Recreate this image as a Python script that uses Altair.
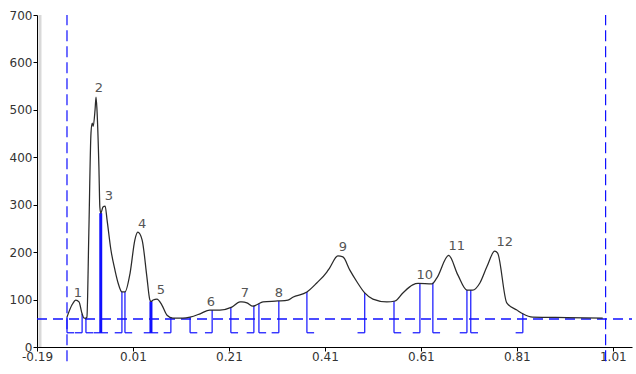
import altair as alt
import pandas as pd
import numpy as np

# ---- data ----
curve_x = [-0.1275, -0.117, -0.109, -0.1025, -0.096, -0.092, -0.088, -0.086, -0.082, -0.0775,
           -0.075, -0.073, -0.069, -0.067, -0.065, -0.061, -0.059, -0.057, -0.0525, -0.048,
           -0.044, -0.036, -0.0275, -0.021, -0.013, -0.0067, 0.004, 0.014, 0.020, 0.029,
           0.039, 0.045, 0.0475, 0.052, 0.060, 0.070, 0.081, 0.093, 0.114, 0.129,
           0.150, 0.170, 0.191, 0.216, 0.233, 0.237, 0.2475, 0.260, 0.268, 0.281,
           0.312, 0.333, 0.343, 0.3725, 0.393, 0.414, 0.420, 0.437, 0.4475, 0.462,
           0.477, 0.493, 0.510, 0.539, 0.556, 0.5725, 0.593, 0.604, 0.633, 0.643,
           0.668, 0.687, 0.706, 0.718, 0.733, 0.7475, 0.764, 0.770, 0.789, 0.810,
           0.8225, 0.843, 0.914, 0.989]
curve_y = [63, 89, 99, 95, 70, 61, 61, 63, 240, 451,
           472, 465, 500, 527, 500, 380, 295, 282, 295, 297,
           268, 205, 162, 135, 116, 116, 156, 226, 242, 226,
           148, 100, 96, 99, 101, 89, 67, 61, 61, 63,
           70, 78, 78, 84, 95, 95, 93, 86, 89, 95,
           97, 99, 105, 116, 135, 158, 167, 192, 190, 162,
           137, 114, 101, 95, 97, 114, 131, 134, 133, 145,
           193, 152, 120, 120, 135, 169, 202, 198, 93, 78,
           70, 63, 62, 61]

peak_ids = [str(i) for i in range(1, 13)]
peak_start = [-0.1275, -0.088, -0.057, -0.0067, 0.0475, 0.129, 0.214, 0.2725, 0.3725, 0.554, 0.635, 0.714]
peak_end = [-0.096, -0.057, -0.013, 0.0475, 0.089, 0.175, 0.262, 0.314, 0.493, 0.608, 0.706, 0.8225]
label_x = [-0.1046, -0.061, -0.040, 0.029, 0.068, 0.1725, 0.243, 0.314, 0.4475, 0.618, 0.685, 0.785]
label_y = [114, 546, 318, 259, 120, 95, 114, 114, 211, 152, 213, 221]

marker_x = [-0.1275, 0.995]
threshold_y = [59]
bracket_base = 30
stub_len = 0.015

x_ticks = [-0.19, 0.01, 0.21, 0.41, 0.61, 0.81, 1.01]
y_ticks = [0, 100, 200, 300, 400, 500, 600, 700]
x_domain = [-0.19, 1.05]
y_domain = [0, 700]

# ---- tables ----
curve = pd.DataFrame({"x": curve_x, "y": curve_y})

rows = []
for s, e in zip(peak_start, peak_end):
    rows.append({"x": s, "side": "start"})
    rows.append({"x": e, "side": "end"})
bounds = pd.DataFrame(rows)
bounds["top"] = np.interp(bounds["x"], curve_x, curve_y)
bounds["base"] = bracket_base
bounds["x2"] = np.where(bounds["side"] == "start", bounds["x"] + stub_len, bounds["x"] - stub_len)
bounds["shared"] = bounds["x"].round(4).duplicated(keep=False)

labels = pd.DataFrame({"x": label_x, "y": label_y, "t": peak_ids})
markers = pd.DataFrame({"x": marker_x, "y": [-30] * len(marker_x), "y2": [700] * len(marker_x)})
thresh = pd.DataFrame({"y": threshold_y, "x": [x_domain[0]], "x2": [x_domain[1]]})
shadow = pd.DataFrame({"x": [x_domain[0]], "y": [0], "y2": [700]})

FONT = "DejaVu Sans"
xs = alt.Scale(domain=x_domain, nice=False, zero=False)
ys = alt.Scale(domain=y_domain, nice=False, zero=False)
xaxis = alt.Axis(values=x_ticks, format=".2f", title=None, grid=False, tickSize=4,
                 labelExpr="replace(datum.label, '\u2212', '-')",
                 labelFont=FONT, labelFontSize=12, labelColor="#333", labelPadding=0,
                 domainColor="#000", tickColor="#000", labelFlush=False)
yaxis = alt.Axis(values=y_ticks, title=None, grid=False, tickSize=4,
                 labelFont=FONT, labelFontSize=12, labelColor="#333", labelPadding=1,
                 domainColor="#000", tickColor="#000")


def X(f):
    return alt.X(f, type="quantitative", scale=xs, axis=xaxis)


def Y(f):
    return alt.Y(f, type="quantitative", scale=ys, axis=yaxis)


BLUE = "#1010ff"

shadow_layer = alt.Chart(shadow).mark_rule(strokeWidth=3, xOffset=3).encode(
    x=X("x"), y=Y("y"), y2="y2", color=alt.value("#d9d9d9"))

thresh_layer = alt.Chart(thresh).mark_rule(strokeWidth=1.4, strokeDash=[10, 6]).encode(
    x=X("x"), x2="x2", y=Y("y"), color=alt.value(BLUE))

marker_layer = alt.Chart(markers).mark_rule(strokeWidth=1.2, strokeDash=[11, 5]).encode(
    x=X("x"), y=Y("y"), y2="y2", color=alt.value(BLUE))

vlines = alt.Chart(bounds).mark_rule().encode(
    x=X("x"), y=Y("base"), y2="top", color=alt.value(BLUE),
    strokeWidth=alt.condition("datum.shared", alt.value(2.6), alt.value(1.2)))

stubs = alt.Chart(bounds).mark_rule(strokeWidth=1.2).encode(
    x=X("x"), x2="x2", y=Y("base"), color=alt.value(BLUE))

line = alt.Chart(curve).mark_line(strokeWidth=1.25, interpolate="monotone").encode(
    x=X("x"), y=Y("y"), color=alt.value("#2a2a2a"))

text = alt.Chart(labels).mark_text(font=FONT, fontSize=13, align="center",
                                   baseline="middle").encode(
    x=X("x"), y=Y("y"), text="t", color=alt.value("#555"))

chart = alt.layer(shadow_layer, thresh_layer, marker_layer, vlines, stubs, line, text).properties(
    width=595, height=332,
    padding={"left": 37, "top": 15, "right": 4, "bottom": 27},
    autosize=alt.AutoSizeParams(type="none"),
    background="white",
).configure_view(stroke=None)

chart.save("out.html", embed_options={"renderer": "svg", "actions": False})
